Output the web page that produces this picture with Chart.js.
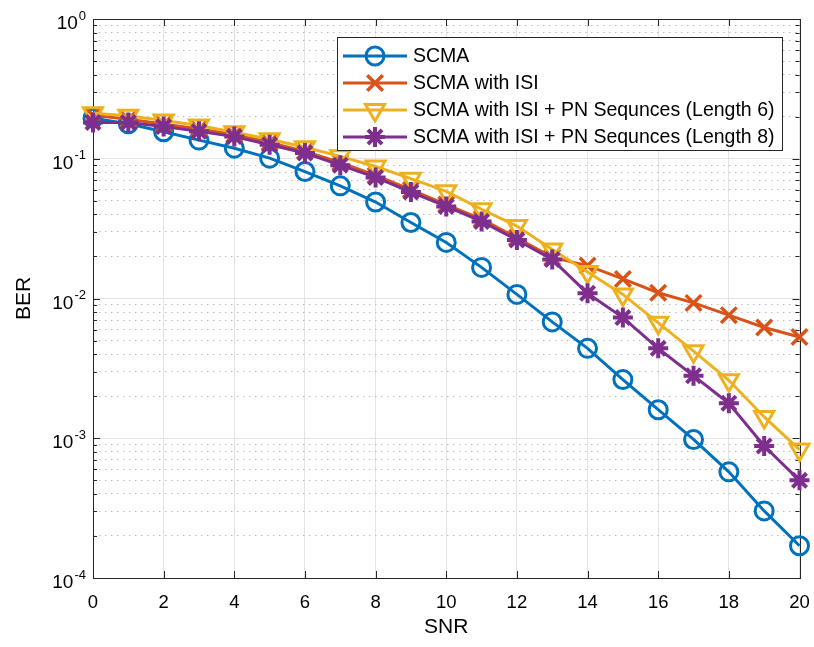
<!DOCTYPE html>
<html><head><meta charset="utf-8">
<script src="https://cdn.jsdelivr.net/npm/chart.js@4.4.0/dist/chart.umd.min.js"></script>
<style>html,body{margin:0;padding:0;background:#fff;}#wrap{width:814px;height:647px;position:relative;}</style>
</head><body><div id="wrap"><canvas id="c" width="814" height="647"></canvas></div>
<script>
const snr = [0,1,2,3,4,5,6,7,8,9,10,11,12,13,14,15,16,17,18,19,20];
const scma    = [0.195,0.178,0.156,0.136,0.119,0.101,0.081,0.064,0.049,0.035,0.0252,0.0167,0.0107,0.0068,0.0044,0.00263,0.0016,0.00098,0.000575,0.000302,0.00017];
const scmaIsi = [0.205,0.192,0.177,0.163,0.149,0.131,0.113,0.094,0.076,0.060,0.047,0.037,0.0272,0.0197,0.0172,0.0138,0.011,0.0093,0.0076,0.0062,0.0053];
const pn6     = [0.212,0.203,0.188,0.173,0.155,0.138,0.121,0.104,0.088,0.072,0.0585,0.0435,0.033,0.0224,0.0155,0.0107,0.0067,0.0042,0.0026,0.00142,0.00083];
const pn8     = [0.182,0.182,0.170,0.157,0.144,0.126,0.110,0.090,0.0735,0.0578,0.0456,0.0356,0.0262,0.019,0.0109,0.0073,0.0044,0.0028,0.00178,0.00088,0.0005];
const seriesNames = ['SCMA','SCMA with ISI','SCMA with ISI + PN Sequnces (Length 6)','SCMA with ISI + PN Sequnces (Length 8)'];
const xTicks = [0,2,4,6,8,10,12,14,16,18,20];
const yDecades = [1e-4,1e-3,1e-2,1e-1,1];
const yTickBase = '10';
const yTickExponents = ['-4','-3','-2','-1','0'];
const xTitle = 'SNR';
const yTitle = 'BER';

const FONT = "'Liberation Sans', Arial, Helvetica, sans-serif";
const AX = '#262626';

function yTickList(){
  const out = [];
  for (let d = 0; d < yDecades.length; d++) {
    out.push({value: yDecades[d], major: true});
    if (d < yDecades.length - 1) for (let m = 2; m <= 9; m++) out.push({value: yDecades[d]*m, major: false});
  }
  return out;
}

const boxPlugin = {
  id: 'matlabBox',
  beforeDatasetsDraw(chart) {
    const {ctx, chartArea: a, scales: {x, y}} = chart;
    ctx.save();
    ctx.strokeStyle = AX; ctx.lineWidth = 1;
    ctx.beginPath();
    xTicks.forEach(v => {
      const px = Math.round(x.getPixelForValue(v)) + 0.5;
      ctx.moveTo(px, a.bottom); ctx.lineTo(px, a.bottom - 7);
      ctx.moveTo(px, a.top); ctx.lineTo(px, a.top + 7);
    });
    y.ticks.forEach(t => {
      const py = Math.round(y.getPixelForValue(t.value)) + 0.5;
      const L = t.major ? 7 : 4;
      ctx.moveTo(a.left, py); ctx.lineTo(a.left + L, py);
      ctx.moveTo(a.right, py); ctx.lineTo(a.right - L, py);
    });
    ctx.stroke();
    ctx.strokeRect(Math.round(a.left) + 0.5, Math.round(a.top) + 0.5, Math.round(a.width), Math.round(a.height));
    ctx.restore();
  },
  afterDraw(chart) {
    const {ctx, chartArea: a, scales: {y}} = chart;
    ctx.save();
    ctx.fillStyle = '#000';
    ctx.textBaseline = 'alphabetic';
    yDecades.forEach((v, i) => {
      const py = y.getPixelForValue(v);
      const xr = a.left - 7;
      ctx.font = '13px ' + FONT;
      ctx.textAlign = 'right';
      const ew = ctx.measureText(yTickExponents[i]).width;
      ctx.fillText(yTickExponents[i], xr, py + 0.5);
      ctx.font = '19px ' + FONT;
      ctx.fillText(yTickBase, xr - ew - 1, py + 10);
    });
    ctx.restore();
  }
};

const legendPlugin = {
  id: 'boxLegend',
  afterDraw(chart) {
    const ctx = chart.ctx;
    const L = 337, T = 37, W = 445, H = 113;
    ctx.save();
    ctx.fillStyle = '#fff'; ctx.fillRect(L, T, W, H);
    ctx.strokeStyle = AX; ctx.lineWidth = 1; ctx.strokeRect(L + 0.5, T + 0.5, W, H);
    chart.data.datasets.forEach((ds, i) => {
      const cy = T + 19 + i * 27;
      ctx.strokeStyle = ds.borderColor; ctx.lineWidth = ds.borderWidth;
      ctx.beginPath(); ctx.moveTo(343, cy); ctx.lineTo(407, cy); ctx.stroke();
      ctx.fillStyle = 'rgba(0,0,0,0)';
      ctx.strokeStyle = ds.borderColor; ctx.lineWidth = ds.pointBorderWidth;
      if (Chart.helpers && Chart.helpers.drawPoint) {
        Chart.helpers.drawPoint(ctx, {pointStyle: ds.pointStyle, rotation: ds.pointRotation || 0, radius: ds.pointRadius, borderWidth: ds.pointBorderWidth}, 375, cy);
      }
      ctx.fillStyle = '#000';
      ctx.font = '19.5px ' + FONT;
      ctx.textBaseline = 'middle'; ctx.textAlign = 'left';
      ctx.fillText(ds.label, 413, cy + 1);
    });
    ctx.restore();
  }
};

const colors = ['#0072BD','#D95319','#EDB120','#7E2F8E'];
const mk = (label, data, color, style, radius, rot, order, bw) => ({
  label, data: data.map((v, i) => ({x: snr[i], y: v})),
  borderColor: color, backgroundColor: 'rgba(0,0,0,0)', borderWidth: 3,
  pointStyle: style, pointRadius: radius, pointRotation: rot, pointBorderWidth: bw,
  pointBorderColor: color, pointBackgroundColor: 'rgba(0,0,0,0)',
  pointHoverRadius: radius, tension: 0, clip: false, order
});

new Chart(document.getElementById('c'), {
  type: 'line',
  data: {
    datasets: [
      mk(seriesNames[0], scma, colors[0], 'circle', 9, 0, 4, 3),
      mk(seriesNames[1], scmaIsi, colors[1], 'crossRot', 11, 0, 3, 3.5),
      mk(seriesNames[2], pn6, colors[2], 'triangle', 11, 180, 2, 3),
      mk(seriesNames[3], pn8, colors[3], 'star', 10, 0, 1, 4)
    ]
  },
  options: {
    responsive: false, animation: false, devicePixelRatio: 1,
    layout: {padding: {left: 0, right: 14, top: 19, bottom: 0}},
    plugins: {legend: {display: false}, tooltip: {enabled: false}},
    scales: {
      x: {
        type: 'linear', min: 0, max: 20,
        afterBuildTicks: s => { s.ticks = xTicks.map(v => ({value: v})); },
        afterFit: s => { s.height = 69; s.paddingLeft = 0; s.paddingRight = 0; },
        grid: {color: '#e3e3e3', lineWidth: 1, drawTicks: false},
        border: {display: false, dash: []},
        ticks: {color: '#000', font: {family: FONT, size: 18.5}, padding: 14, maxRotation: 0, autoSkip: false},
        title: {display: true, text: xTitle, color: '#000', font: {family: FONT, size: 21}, padding: {top: 0, bottom: 7}}
      },
      y: {
        type: 'logarithmic', min: 1e-4, max: 1,
        afterBuildTicks: s => { s.ticks = yTickList(); },
        afterFit: s => { s.width = 93; s.paddingTop = 0; s.paddingBottom = 0; },
        grid: {
          color: c => (c.tick && c.tick.major) ? '#e3e3e3' : '#bdbdbd',
          lineWidth: 1, drawTicks: false
        },
        border: {display: false, dash: c => (c.tick && c.tick.major) ? [] : [1.5, 4.5]},
        ticks: {display: false, autoSkip: false},
        title: {display: true, text: yTitle, color: '#000', font: {family: FONT, size: 21}, padding: {top: 12, bottom: 0}}
      }
    }
  },
  plugins: [boxPlugin, legendPlugin]
});
</script></body></html>
